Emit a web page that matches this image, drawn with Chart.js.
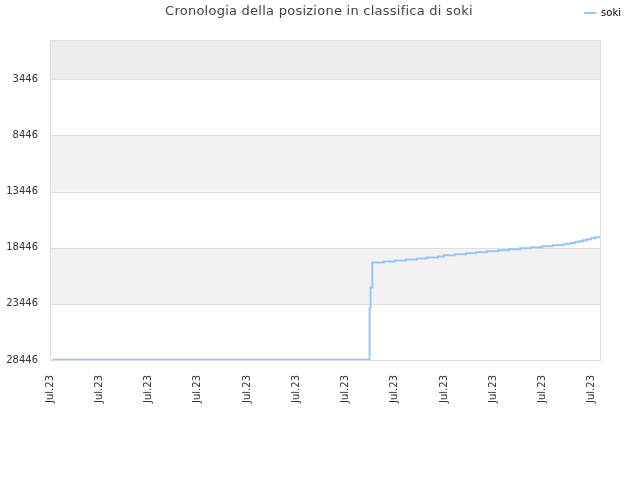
<!DOCTYPE html>
<html>
<head>
<meta charset="utf-8">
<script src="https://cdn.jsdelivr.net/npm/chart.js@4/dist/chart.umd.min.js"></script>
<style>
  html, body { margin: 0; padding: 0; background: #fff; }
  #wrap { width: 640px; height: 480px; }
</style>
</head>
<body>
<div id="wrap"><canvas id="chart"></canvas></div>
<script>
const chartTitle = 'Cronologia della posizione in classifica di soki';
const seriesName = 'soki';

// position on the time axis (one unit per date tick) and rank at that time
const dayPos = [0.05, 6.47, 6.49, 6.51, 6.545, 6.778, 7.002, 7.226, 7.449, 7.652, 7.876,
  7.998, 8.222, 8.445, 8.648, 8.872, 9.096, 9.319, 9.543, 9.766, 9.990, 10.213, 10.417,
  10.498, 10.579, 10.661, 10.742, 10.823, 10.904, 10.986, 11.067, 11.169];
const ranks = [28420, 28420, 23866, 21992, 19759, 19670, 19581, 19491, 19402, 19313, 19224,
  19108, 19018, 18929, 18840, 18750, 18661, 18572, 18483, 18393, 18304, 18224, 18134,
  18090, 18018, 17929, 17858, 17777, 17688, 17599, 17509, 17393];

const xTickLabels = ['Jul.23', 'Jul.23', 'Jul.23', 'Jul.23', 'Jul.23', 'Jul.23',
  'Jul.23', 'Jul.23', 'Jul.23', 'Jul.23', 'Jul.23', 'Jul.23'];
const yTicks = [3446, 8446, 13446, 18446, 23446, 28446];

const lineColor = '#97c6f4';

// shaded horizontal bands + frame, drawn under the data
const bandsPlugin = {
  id: 'bands',
  beforeDatasetsDraw(chart) {
    const { ctx, chartArea: a, scales: { y } } = chart;
    const bands = [
      [y.min, yTicks[0], '#ececec'],
      [yTicks[1], yTicks[2], '#f2f2f2'],
      [yTicks[3], yTicks[4], '#f2f2f2'],
    ];
    ctx.save();
    bands.forEach(([from, to, color]) => {
      const y1 = y.getPixelForValue(from);
      const y2 = y.getPixelForValue(to);
      ctx.fillStyle = color;
      ctx.fillRect(a.left, Math.min(y1, y2), a.right - a.left, Math.abs(y2 - y1));
    });
    ctx.strokeStyle = '#dddddd';
    ctx.lineWidth = 1;
    yTicks.forEach(v => {
      const py = Math.round(y.getPixelForValue(v)) + 0.5;
      ctx.beginPath();
      ctx.moveTo(a.left, py);
      ctx.lineTo(a.right, py);
      ctx.stroke();
    });
    ctx.strokeRect(Math.round(a.left) + 0.5, Math.round(a.top) + 0.5,
      Math.round(a.right - a.left), Math.round(a.bottom - a.top));
    ctx.restore();
  }
};

// title sits on the same row as the legend
const titlePlugin = {
  id: 'rowTitle',
  afterDraw(chart) {
    const { ctx } = chart;
    ctx.save();
    ctx.font = '13px "DejaVu Sans"';
    ctx.letterSpacing = '0.25px';
    ctx.fillStyle = '#444';
    ctx.textAlign = 'center';
    ctx.textBaseline = 'middle';
    ctx.fillText(chartTitle, 319, 12);
    ctx.restore();
  }
};

// invisible spacer axes to place the plot area
const spacer = (pos, size) => ({
  type: 'linear',
  position: pos,
  afterFit(scale) {
    if (pos === 'top') scale.height = size; else scale.width = size;
  },
  grid: { display: false, drawTicks: false },
  border: { display: false },
  ticks: { display: false },
});

new Chart(document.getElementById('chart'), {
  type: 'line',
  data: {
    datasets: [{
      label: seriesName,
      data: dayPos.map((d, i) => ({ x: d, y: ranks[i] })),
      borderColor: lineColor,
      backgroundColor: lineColor,
      borderWidth: 2,
      pointRadius: 0,
      stepped: 'before',
      fill: false,
    }]
  },
  options: {
    responsive: true,
    maintainAspectRatio: false,
    animation: false,
    layout: { padding: { top: 0, right: 11, bottom: 0, left: 0 } },
    plugins: {
      legend: {
        position: 'top',
        align: 'end',
        labels: {
          font: { family: 'DejaVu Sans', size: 10 },
          color: '#222',
          boxWidth: 12,
          boxHeight: 2,
          padding: 8,
          generateLabels(chart) {
            return chart.data.datasets.map((ds, i) => ({
              text: ds.label,
              fillStyle: ds.borderColor,
              strokeStyle: ds.borderColor,
              lineWidth: 0,
              datasetIndex: i,
            }));
          }
        }
      },
      tooltip: { enabled: false },
    },
    scales: {
      x: {
        type: 'linear',
        min: 0,
        max: 11.169,
        afterBuildTicks(scale) {
          scale.ticks = xTickLabels.map((_, i) => ({ value: i }));
        },
        afterFit(scale) { scale.height = 120; },
        grid: { display: false, drawTicks: false },
        border: { display: false },
        ticks: {
          font: { family: 'DejaVu Sans', size: 10 },
          color: '#333',
          maxRotation: 90,
          minRotation: 90,
          padding: 15,
          autoSkip: false,
          callback: (v, i) => xTickLabels[i],
        },
      },
      y: {
        type: 'linear',
        reverse: true,
        min: -60,
        max: 28446,
        afterBuildTicks(scale) {
          scale.ticks = yTicks.map(v => ({ value: v }));
        },
        afterFit(scale) { scale.width = 50; },
        grid: { display: false, drawTicks: false },
        border: { display: false },
        ticks: {
          font: { family: 'DejaVu Sans', size: 10 },
          color: '#333',
          padding: 12,
          callback: v => String(v),
        },
      },
      yr: spacer('right', 29),
      xt: spacer('top', 12),
    },
  },
  plugins: [bandsPlugin, titlePlugin],
});
</script>
</body>
</html>
